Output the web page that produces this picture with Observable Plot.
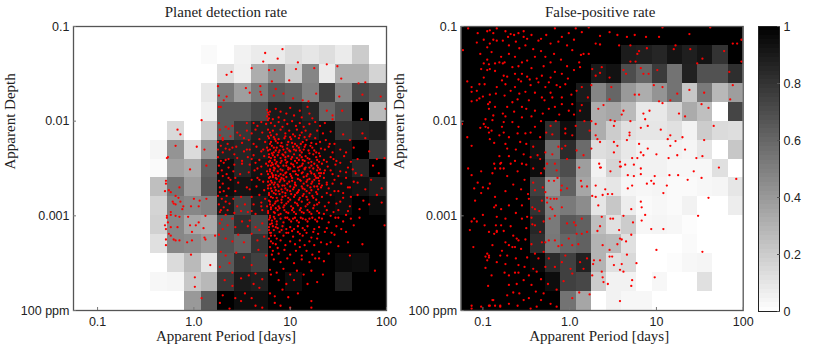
<!DOCTYPE html>
<html><head><meta charset="utf-8">
<script src="https://cdn.jsdelivr.net/npm/d3@7"></script>
<script src="https://cdn.jsdelivr.net/npm/@observablehq/plot@0.6"></script>
<style>
html,body{margin:0;padding:0;background:#fff;width:830px;height:350px;overflow:hidden}
#a,#b,#c{position:absolute;top:0}
#a{left:0}#b{left:390px}#c{left:750px}
svg{display:block;background:transparent}
</style></head><body>
<div id="a"></div><div id="b"></div><div id="c"></div>
<script>
const periodTicks=[0.1,1,10,100];
const periodLabels=["0.1","1.0","10","100"];
const depthTicks=[0.1,0.01,0.001,0.0001];
const depthLabels=["0.1","0.01","0.001","100 ppm"];
const barTicks=[0,0.2,0.4,0.6,0.8,1];
const titleLeft="Planet detection rate";
const titleRight="False-positive rate";
const xTitle="Apparent Period [days]";
const yTitle="Apparent Depth";
// rows: top (depth 0.1) to bottom; columns: short to long period
const planetRate=[
[0,0,0,0,0,0,0,0,0,0,0,0,0,0,0,0,0,0,0],
[0,0,0,0,0,0,0,0,.02,0,.05,.08,.08,.13,.1,.13,.08,.2,0],
[0,0,0,0,0,0,0,0,0,.12,.06,.32,.45,.2,.48,.08,.32,.32,.17],
[0,0,0,0,0,0,0,0,.09,.52,.38,.52,.65,.62,.5,.75,.48,.72,.65],
[0,0,0,0,0,0,0,0,.06,.65,.65,.72,.9,.9,.85,.6,.7,1,.27],
[0,0,0,0,0,0,.15,0,.2,.65,.78,.88,.9,.92,.9,.95,.8,.85,.87],
[0,0,0,0,0,.04,.42,.14,.42,.87,.85,.9,.95,.92,.97,.95,.92,1,.77],
[0,0,0,0,0,.02,.37,.33,.62,.95,.85,.93,.95,.97,.95,.95,.93,.85,1],
[0,0,0,0,0,.25,.55,.38,.65,.95,.92,.95,.95,.95,.95,.95,.95,.93,.88],
[0,0,0,0,0,.17,.5,.47,.5,.9,.75,.9,.97,.97,.97,.97,.95,1,.95],
[0,0,0,0,0,.18,.47,.35,.33,.68,.82,.72,.97,1,1,1,1,1,1],
[0,0,0,0,0,.12,.47,.45,.4,.68,.62,.8,1,1,1,1,1,1,1],
[0,0,0,0,0,0,.14,.27,.1,.65,.8,.75,1,1,1,1,.96,.95,1],
[0,0,0,0,0,.03,.04,.22,.28,.78,.9,.88,1,.95,1,1,.88,1,1],
[0,0,0,0,0,0,0,.4,.65,1,.95,.95,1,1,1,1,1,1,1]];
const falsePositiveRate=[
[1,1,1,1,1,1,1,1,1,1,1,1,1,1,1,1,1,1,1],
[1,1,1,1,1,1,1,1,1,1,1,.89,.88,.85,.92,.88,.92,.8,1],
[1,1,1,1,1,1,1,1,1,.9,.93,.7,.6,.77,.55,.87,.68,.68,.82],
[1,1,1,1,1,1,1,1,.9,.48,.6,.4,.32,.42,.55,.22,.52,.28,.38],
[1,1,1,1,1,1,1,1,.93,.32,.35,.27,.09,.09,.17,.33,.25,0,.73],
[1,1,1,1,1,1,.82,.95,.8,.32,.2,.12,.1,.1,.12,.05,.2,.14,.13],
[1,1,1,1,1,.93,.57,.83,.58,.13,.15,.09,.05,.05,.05,.04,.1,0,.22],
[1,1,1,1,1,.95,.63,.7,.38,.05,.17,.07,.05,.05,.03,.03,.03,.12,0],
[1,1,1,1,1,.75,.42,.62,.35,.08,.1,.04,.03,.04,.02,.02,.03,.04,.1],
[1,1,1,1,1,.8,.5,.52,.45,.1,.22,.07,.02,.03,.02,.05,0,0,.07],
[1,1,1,1,1,.85,.52,.65,.62,.25,.12,.2,.03,.04,.03,.01,0,0,0],
[1,1,1,1,1,.82,.53,.6,.62,.3,.28,.12,0,0,0,.02,0,0,0],
[1,1,1,1,1,.97,.83,.75,.87,.3,.12,.15,0,0,.01,.03,.04,0,0],
[1,1,1,1,1,1,.95,.75,.72,.2,.05,.05,0,.03,0,0,.12,0,0],
[1,1,1,1,1,1,1,.55,.35,0,.05,.03,.03,0,0,0,0,0,0]];
// [log10 period, log10 depth]
const planetSparse=[[.74,-1.28],[.92,-1.24],[.72,-1.37],[.87,-1.34],[1.08,-1.38],[1.38,-1.4],[1.49,-1.42],[.34,-1.51],[.39,-1.48],[.6,-1.44],[.78,-1.46],[.84,-1.46],[1.06,-1.45],[1.25,-1.44],[1.53,-1.55],[1.71,-1.6],[1.78,-1.59],[.81,-1.58],[.99,-1.57],[.25,-1.63],[.54,-1.65],[.58,-1.7],[.69,-1.63],[.69,-1.69],[.7,-1.72],[.85,-1.66],[.83,-1.73],[.93,-1.71],[1.03,-1.76],[1.27,-1.71],[1.51,-1.74],[1.75,-1.72],[1.94,-1.74],[.26,-1.73],[.34,-1.74],[.31,-1.78],[.26,-1.85],[.28,-1.85],[1.13,-1.78],[1.19,-1.79],[1.99,-1.87],[1.54,-1.89],[1.38,-1.89],[1.44,-1.94],[1.44,-1.98],[1.74,-1.98],[.08,-1.99],[-.17,-2.09],[-.14,-2.14],[-.19,-2.26],[.03,-2.27],[.11,-2.3],[-.28,-2.39],[-.27,-2.38],[-.04,-2.51],[.13,-2.47],[-.29,-2.63],[-.29,-2.66],[-.3,-2.74],[-.26,-2.73],[-.24,-2.75],[-.19,-2.79],[-.15,-2.7],[-.16,-2.81],[-.22,-2.85],[-.21,-2.87],[-.19,-2.88],[-.14,-2.85],[-.11,-2.9],[-.12,-2.93],[0,-2.82],[.13,-2.82],[.06,-2.84],[-.03,-2.9],[.05,-2.9],[-.24,-2.96],[-.28,-3],[-.28,-3.02],[-.24,-2.99],[-.19,-3],[-.15,-3.01],[-.06,-3.01],[.12,-3],[.05,-3.07],[.02,-3.1],[.1,-3.13],[-.04,-3.1],[-.17,-3.12],[-.24,-3.12],[-.3,-3.1],[-.29,-3.14],[-.27,-3.07],[-.26,-3.19],[-.24,-3.21],[-.21,-3.25],[-.29,-3.25],[-.19,-3.26],[-.15,-3.26],[-.29,-3.31],[-.02,-3.17],[-.02,-3.26],[-.07,-3.28],[.11,-3.23],[.12,-3.25],[.22,-3.21],[-.03,-3.41],[.17,-3.52],[.01,-3.65],[.01,-3.75],[.08,-3.87]];
const planetCore=[[.76,-1.88],[.77,-1.91],[.78,-1.93],[.76,-1.95],[.78,-1.97],[.77,-1.99],[.79,-1.9],[.85,-1.87],[.9,-1.9],[.96,-1.92],[1,-1.86],[1.04,-1.94],[1.1,-1.89],[1.12,-1.96],[.82,-1.98],[.88,-1.96],[.94,-1.99],[1.18,-1.85],[1.2,-1.92],[1.23,-1.97],
[.62,-2.02],[.66,-2.05],[.7,-2.01],[.75,-2.03],[.8,-2.02],[.84,-2.05],[.88,-2.01],[.92,-2.06],[.97,-2.03],[1.02,-2],[1.06,-2.05],[1.1,-2.02],[1.14,-2.06],[1.2,-2.03],[1.26,-2.01],[1.31,-2.05],[1.36,-2.02],[.26,-2.02],[.33,-2.06],[.36,-2.08],[.4,-2.05],[.27,-2.09],
[.55,-2.1],[.6,-2.13],[.64,-2.09],[.71,-2.12],[.77,-2.09],[.79,-2.12],[.82,-2.1],[.86,-2.14],[.9,-2.09],[.95,-2.13],[.99,-2.1],[1.03,-2.14],[1.07,-2.09],[1.12,-2.12],[1.16,-2.1],[1.21,-2.14],[1.28,-2.1],[1.34,-2.13],[1.42,-2.11],[1.55,-2.14],[1.75,-2.13],[1.78,-2.18],[.27,-2.15],[.3,-2.18],[.38,-2.16],[.48,-2.15],[.52,-2.18],
[.57,-2.2],[.62,-2.24],[.68,-2.19],[.74,-2.22],[.78,-2.18],[.8,-2.22],[.83,-2.17],[.85,-2.21],[.88,-2.19],[.91,-2.23],[.94,-2.18],[.98,-2.22],[1.01,-2.19],[1.05,-2.24],[1.09,-2.18],[1.13,-2.22],[1.17,-2.2],[1.22,-2.23],[1.26,-2.18],[1.31,-2.22],[1.37,-2.2],[1.46,-2.24],[1.62,-2.2],[.25,-2.22],[.28,-2.26],[.35,-2.24],[.44,-2.27],[.5,-2.23],
[.58,-2.3],[.65,-2.27],[.7,-2.32],[.76,-2.28],[.79,-2.3],[.81,-2.26],[.83,-2.33],[.86,-2.28],[.89,-2.31],[.92,-2.27],[.95,-2.33],[.97,-2.29],[1,-2.32],[1.03,-2.27],[1.06,-2.31],[1.09,-2.28],[1.12,-2.33],[1.15,-2.27],[1.19,-2.31],[1.23,-2.28],[1.27,-2.33],[1.32,-2.29],[1.4,-2.27],[1.44,-2.33],[1.52,-2.3],[1.66,-2.28],[1.82,-2.32],[1.9,-2.4],[.25,-2.3],[.3,-2.33],[.37,-2.3],[.42,-2.35],[.52,-2.32],
[.56,-2.38],[.62,-2.36],[.68,-2.41],[.73,-2.37],[.78,-2.35],[.8,-2.39],[.82,-2.36],[.84,-2.41],[.87,-2.36],[.9,-2.39],[.93,-2.36],[.95,-2.41],[.98,-2.37],[1.01,-2.4],[1.04,-2.35],[1.07,-2.39],[1.1,-2.36],[1.13,-2.41],[1.16,-2.37],[1.2,-2.4],[1.24,-2.35],[1.28,-2.41],[1.31,-2.37],[1.35,-2.41],[1.42,-2.38],[1.48,-2.42],[1.56,-2.37],[1.7,-2.4],[1.98,-2.39],[.25,-2.38],[.33,-2.41],[.45,-2.39],
[.58,-2.46],[.64,-2.44],[.7,-2.48],[.75,-2.45],[.78,-2.43],[.8,-2.47],[.81,-2.44],[.83,-2.49],[.85,-2.45],[.88,-2.48],[.9,-2.44],[.93,-2.47],[.96,-2.44],[.98,-2.49],[1.01,-2.45],[1.04,-2.48],[1.07,-2.44],[1.1,-2.48],[1.13,-2.45],[1.16,-2.49],[1.19,-2.44],[1.22,-2.47],[1.25,-2.45],[1.29,-2.49],[1.33,-2.45],[1.39,-2.48],[1.47,-2.46],[1.6,-2.49],[1.86,-2.47],[.26,-2.47],[.31,-2.44],[.36,-2.49],[.42,-2.46],[.5,-2.45],
[.57,-2.54],[.63,-2.52],[.7,-2.56],[.76,-2.53],[.79,-2.51],[.81,-2.55],[.83,-2.52],[.85,-2.57],[.87,-2.53],[.9,-2.56],[.92,-2.52],[.95,-2.55],[.98,-2.51],[1,-2.56],[1.03,-2.53],[1.06,-2.56],[1.09,-2.52],[1.12,-2.55],[1.15,-2.51],[1.18,-2.56],[1.21,-2.53],[1.25,-2.56],[1.28,-2.52],[1.32,-2.55],[1.36,-2.52],[1.44,-2.56],[1.52,-2.53],[1.68,-2.55],[.25,-2.55],[.29,-2.52],[.34,-2.56],[.41,-2.53],[.48,-2.56],
[.6,-2.62],[.66,-2.6],[.72,-2.64],[.78,-2.6],[.8,-2.63],[.82,-2.59],[.84,-2.65],[.86,-2.61],[.89,-2.64],[.91,-2.6],[.94,-2.63],[.96,-2.59],[.99,-2.64],[1.02,-2.6],[1.05,-2.65],[1.08,-2.61],[1.11,-2.63],[1.14,-2.59],[1.17,-2.64],[1.2,-2.61],[1.23,-2.64],[1.27,-2.6],[1.3,-2.63],[1.35,-2.6],[1.38,-2.65],[1.46,-2.62],[1.58,-2.6],[1.66,-2.64],[1.84,-2.62],[.26,-2.63],[.3,-2.66],[.38,-2.62],[.46,-2.65],
[.58,-2.72],[.65,-2.69],[.73,-2.73],[.77,-2.68],[.8,-2.71],[.83,-2.67],[.85,-2.73],[.88,-2.69],[.91,-2.72],[.94,-2.68],[.97,-2.73],[1,-2.69],[1.03,-2.72],[1.06,-2.68],[1.09,-2.73],[1.12,-2.69],[1.15,-2.72],[1.18,-2.68],[1.22,-2.73],[1.25,-2.69],[1.29,-2.72],[1.33,-2.68],[1.4,-2.71],[1.5,-2.74],[1.62,-2.7],[1.78,-2.72],[1.95,-2.71],[.27,-2.7],[.31,-2.74],[.36,-2.71],[.43,-2.74],
[.6,-2.8],[.68,-2.78],[.74,-2.82],[.78,-2.76],[.8,-2.8],[.83,-2.76],[.86,-2.81],[.89,-2.77],[.92,-2.8],[.95,-2.76],[.98,-2.81],[1.01,-2.77],[1.04,-2.8],[1.07,-2.76],[1.1,-2.81],[1.14,-2.77],[1.17,-2.8],[1.2,-2.76],[1.24,-2.81],[1.28,-2.77],[1.33,-2.8],[1.42,-2.78],[1.55,-2.81],[1.7,-2.78],[.25,-2.79],[.29,-2.82],[.34,-2.79],[.41,-2.82],[.49,-2.8],
[.62,-2.88],[.7,-2.86],[.76,-2.9],[.79,-2.85],[.82,-2.89],[.85,-2.85],[.88,-2.9],[.91,-2.86],[.94,-2.89],[.98,-2.85],[1.01,-2.9],[1.05,-2.86],[1.08,-2.89],[1.12,-2.85],[1.16,-2.9],[1.2,-2.86],[1.25,-2.89],[1.3,-2.86],[1.36,-2.9],[1.48,-2.87],[1.62,-2.9],[1.82,-2.88],[1.95,-2.86],[.26,-2.88],[.31,-2.91],[.37,-2.87],[.45,-2.9],[.53,-2.88],
[.56,-2.96],[.64,-2.98],[.71,-2.94],[.77,-2.97],[.8,-2.93],[.84,-2.97],[.87,-2.94],[.9,-2.98],[.94,-2.94],[.98,-2.97],[1.02,-2.94],[1.06,-2.98],[1.1,-2.94],[1.14,-2.97],[1.18,-2.94],[1.22,-2.98],[1.28,-2.95],[1.35,-2.98],[1.45,-2.96],[1.58,-2.99],[.27,-2.96],[.33,-2.99],[.42,-2.97],[.49,-2.95],
[.79,-3.02],[.81,-3.05],[.83,-3.01],[.86,-3.06],[.9,-3.03],[.93,-3.07],[.97,-3.02],[1.01,-3.06],[1.05,-3.02],[1.09,-3.07],[1.13,-3.03],[1.18,-3.06],[1.23,-3.02],[1.28,-3.06],[1.33,-3.03],[1.4,-3.07],[1.47,-3.02],[1.55,-3.06],[1.63,-3.03],[1.72,-3.02],[1.98,-3.1],[.79,-3.09],[.78,-3.12],[.82,-3.11],[.87,-3.13],[.92,-3.11],[.96,-3.14],[1,-3.12],[1.04,-3.14],[1.08,-3.11],[1.13,-3.13],[1.18,-3.11],[1.25,-3.14],[1.3,-3.12],[1.38,-3.13],[1.48,-3.11],[1.53,-3.14],[.27,-3.08],[.35,-3.1],[.43,-3.12],[.5,-3.06],[.58,-3.05],[.64,-3.12],[.71,-3.08],
[.8,-3.18],[.84,-3.21],[.89,-3.17],[.93,-3.21],[.98,-3.18],[1.03,-3.22],[1.08,-3.17],[1.13,-3.21],[1.17,-3.18],[1.22,-3.23],[1.29,-3.19],[1.36,-3.17],[1.28,-3.24],[1.46,-3.2],[.8,-3.27],[.85,-3.3],[.9,-3.26],[.95,-3.31],[1,-3.27],[1.05,-3.3],[1.1,-3.26],[1.15,-3.31],[1.2,-3.27],[1.25,-3.31],[1.32,-3.28],[1.1,-3.33],[1.38,-3.3],[1.6,-3.28],[1.75,-3.3],[.26,-3.2],[.33,-3.24],[.4,-3.27],[.46,-3.2],[.52,-3.28],[.6,-3.19],[.66,-3.26],[.73,-3.22],
[.82,-3.37],[.88,-3.4],[.94,-3.36],[1,-3.41],[1.06,-3.37],[1.12,-3.42],[1.17,-3.37],[1.23,-3.41],[1.3,-3.38],[.83,-3.46],[.9,-3.49],[.97,-3.45],[1.04,-3.5],[1.12,-3.46],[1.2,-3.49],[1.26,-3.45],[1.35,-3.48],[1.62,-3.42],[1.88,-3.58],[.28,-3.38],[.33,-3.42],[.44,-3.39],[.52,-3.44],[.67,-3.36],[.75,-3.42],[.37,-3.5],[.6,-3.52],[.27,-3.54],
[.79,-3.57],[.86,-3.6],[.93,-3.56],[1,-3.62],[1.07,-3.58],[1.14,-3.62],[1.22,-3.58],[1.34,-3.62],[.88,-3.68],[.96,-3.72],[1.04,-3.68],[1.18,-3.72],[1.28,-3.7],[.8,-3.62],[.4,-3.6],[.49,-3.66],[.57,-3.63],[.64,-3.61],[.71,-3.67],[.32,-3.68],[.62,-3.72],[.68,-3.76],[.4,-3.74],
[.79,-3.82],[.84,-3.85],[.92,-3.78],[.98,-3.86],[1.08,-3.82],[1.22,-3.9],[.84,-3.92],[.9,-3.95],[1,-3.97],[1.22,-3.97],[.43,-3.87],[.49,-3.9],[.53,-3.82],[.6,-3.87],[.3,-3.84],[.27,-3.92],[.64,-3.95],[.71,-3.97],[.37,-3.98]];
const planetDense=[[.77,-2.16],[.8,-2.15],[.84,-2.19],[.79,-2.24],[.87,-2.23],[.83,-2.28],[.77,-2.31],[.9,-2.26],[.85,-2.31],[.81,-2.34],[.78,-2.38],[.88,-2.33],[.92,-2.35],[.84,-2.38],[.79,-2.42],[.86,-2.43],[.91,-2.42],[.82,-2.46],[.77,-2.47],[.87,-2.47],[.79,-2.53],[.84,-2.5],[.9,-2.51],[.77,-2.56],[.82,-2.57],[.88,-2.58],[.93,-2.57],[.79,-2.59],[.85,-2.6],[.77,-2.64],[.81,-2.65],[.9,-2.62],[.87,-2.67],[.79,-2.67],[.84,-2.7],[.92,-2.68],[.77,-2.71],[.81,-2.74],[.88,-2.74],[.85,-2.77],[.78,-2.78],[.92,-2.75],[.82,-2.81],[.87,-2.84],[.78,-2.84],[.91,-2.83],[.84,-2.87],[.79,-2.88],[.89,-2.92],[.8,-2.91],[.85,-2.92],[.93,-2.91],[.77,-2.95],[.83,-2.96],[.88,-2.99],[.79,-3],[.84,-3.03],[.78,-3.04],[.81,-3.08],[.86,-3.09],[.78,-3.15],[.83,-3.15],[.8,-3.21],[.86,-3.24],[.78,-3.24],[.82,-3.29],[.79,-3.33],[.87,-3.34],[.81,-3.41],
[.95,-2.16],[1,-2.17],[1.05,-2.16],[1.1,-2.15],[1.15,-2.17],[1.2,-2.16],[.97,-2.25],[1.02,-2.23],[1.07,-2.26],[1.11,-2.24],[1.16,-2.25],[1.21,-2.26],[1.27,-2.24],[.93,-2.3],[.99,-2.31],[1.04,-2.3],[1.1,-2.31],[1.14,-2.3],[1.2,-2.34],[1.25,-2.31],[1.3,-2.34],[.95,-2.38],[.97,-2.43],[1.02,-2.38],[1.05,-2.42],[1.09,-2.41],[1.12,-2.38],[1.15,-2.42],[1.18,-2.39],[1.22,-2.43],[1.27,-2.38],[1.3,-2.43],[.96,-2.47],[1,-2.5],[1.03,-2.46],[1.08,-2.49],[1.12,-2.47],[1.15,-2.5],[1.2,-2.49],[1.24,-2.5],[1.28,-2.47],[1.31,-2.51],[1.3,-2.55],[1.31,-2.58],[1.29,-2.6],[1.3,-2.66],[1.28,-2.69],[1.32,-2.7],[.96,-2.54],[1.01,-2.58],[1.05,-2.53],[1.08,-2.57],[1.13,-2.54],[1.17,-2.58],[1.22,-2.55],[1.26,-2.58],[.93,-2.61],[.97,-2.66],[1.02,-2.63],[1.05,-2.67],[1.1,-2.62],[1.14,-2.66],[1.18,-2.62],[1.22,-2.66],[1.25,-2.62],[.95,-2.71],[1,-2.74],[1.04,-2.7],[1.08,-2.75],[1.13,-2.71],[1.17,-2.74],[1.21,-2.7],[1.27,-2.75],[.95,-2.79],[1,-2.83],[1.05,-2.78],[1.09,-2.83],[1.13,-2.79],[1.18,-2.83],[1.23,-2.79],[1.27,-2.83],[.96,-2.87],[1.03,-2.92],[1.07,-2.87],[1.11,-2.92],[1.18,-2.88],[1.24,-2.92],[1.28,-2.88],[.96,-2.96],[1.04,-2.96],[1.12,-2.96],[1.2,-2.96],[1.3,-2.97],
[1.36,-2.3],[1.41,-2.24],[1.38,-2.43],[1.45,-2.4],[1.52,-2.44],[1.58,-2.33],[1.63,-2.43],[1.35,-2.55],[1.42,-2.52],[1.5,-2.58],[1.58,-2.54],[1.65,-2.51],[1.74,-2.57],[1.38,-2.67],[1.44,-2.66],[1.53,-2.66],[1.6,-2.7],[1.7,-2.65],[1.92,-2.55],[1.38,-2.76],[1.46,-2.74],[1.55,-2.76],[1.63,-2.8],[1.76,-2.84],[1.9,-2.78],[1.4,-2.86],[1.52,-2.85],[1.6,-2.95],[1.72,-2.93],[1.38,-2.94],[1.5,-2.94],[1.42,-3],[1.5,-3.02],[1.66,-3.1],[1.43,-3.18],[1.58,-3.17],[1.42,-3.28],[1.5,-3.32],[1.4,-3.4],[1.3,-3.45],
[.95,-3.02],[.99,-3.04],[1.03,-3.03],[1.07,-3.05],[1.11,-3.02],[1.16,-3.04],[1.2,-3.03],[1.26,-3.04],[1.3,-3.02],[.85,-3.12],[.79,-3.18],[.91,-3.15],[.96,-3.18],[1.02,-3.16],[1.1,-3.19],[1.15,-3.15],[1.24,-3.17],
[.3,-2.2],[.33,-2.29],[.28,-2.42],[.36,-2.4],[.4,-2.28],[.3,-2.58],[.36,-2.6],[.27,-2.75],[.33,-2.85],[.43,-2.6],[.5,-2.42],[.55,-2.3],[.6,-2.4],[.66,-2.5],[.72,-2.3],[.68,-2.62],[.55,-2.7],[.6,-2.95],[.7,-2.9],[.45,-2.12],[.55,-2.02],[.28,-2.94],[.35,-2.94],[.29,-3.04],[.4,-3.03],[.56,-3.11],[.68,-3.15],[.3,-3.14]];
const falsePositiveLeft=[[-1.17,-1.02],[-1.23,-1.25],[-1.06,-1.07],[-1.07,-1.17],[-.99,-1.14],[-.95,-1.05],[-.92,-1.04],[-.88,-1.07],[-.84,-1.02],[-.88,-1.14],[-.92,-1.18],[-.95,-1.22],[-.84,-1.15],[-.77,-1.15],[-1.03,-1.29],[-.9,-1.27],[-.95,-1.35],[-.99,-1.39],[-.93,-1.4],[-1.02,-1.45],[-.86,-1.39],[-.81,-1.38],[-.79,-1.32],[-.77,-1.39],[-.95,-1.46],[-.92,-1.45],[-.86,-1.47],[-.99,-1.54],[-.78,-1.57],[-.76,-1.52],[-1.18,-1.58],[-1.13,-1.64],[-1.13,-1.69],[-1.07,-1.68],[-1.04,-1.61],[-.98,-1.61],[-.84,-1.64],[-.92,-1.72],[-1.04,-1.76],[-1.13,-1.79],[-1.07,-1.78],[-1,-1.74],[-.85,-1.71],[-.94,-1.82],[-.92,-1.8],[-.93,-1.87],[-.86,-1.85],[-.77,-1.92],[-.88,-1.94],[-.97,-1.98],[-.89,-1.99],[-1.24,-2.03],[-.99,-2.03],[-1.03,-2.07],[-.97,-2.06],[-.94,-2.07],[-.9,-2.1],[-.93,-2.12],[-1.18,-2.17],[-.92,-2.19],[-1.13,-2.26],[-.87,-2.23],[-.81,-2.15],[-.76,-2.12],[-.76,-2.01],[-.81,-2.37],[-.87,-2.45],[-.79,-2.44],[-1.17,-2.5],[-1.02,-2.53],[-1.13,-2.57],[-.86,-2.5],[-.89,-2.55],[-.8,-2.5],[-.76,-2.5],[-1.06,-2.65],[-.92,-2.66],[-1,-2.7],[-1.1,-2.71],[-.94,-2.71],[-1.02,-2.76],[-.86,-2.8],[-1.09,-2.84],[-.85,-2.89],[-.87,-2.91],[-.79,-2.93],[-1,-2.99],[-.84,-3.01],[-1.1,-3.03],[-1.13,-3.06],[-1.07,-3.06],[-.98,-3.1],[-.85,-3.1],[-.79,-3.1],[-1.15,-3.15],[-.93,-3.17],[-.87,-3.19],[-.84,-3.16],[-.76,-3.16],[-.89,-3.31],[-1.11,-3.33],[-.78,-3.37],[-.8,-3.42],[-.93,-3.42],[-.97,-3.43],[-.95,-3.47],[-.84,-3.49],[-.97,-3.55],[-.9,-3.63],[-.94,-3.74],[-.89,-3.89],[-1.13,-3.95],[-1.13,-3.98],[-1.02,-3.96],[-.92,-3.95],[-.86,-3.95],[-.8,-3.95]];
const falsePositiveRight=[[-.53,-1.05],[-.59,-1.07],[-.64,-1.09],[-.68,-1.08],[-.71,-1.11],[-.53,-1.11],[-.49,-1.13],[-.36,-1.15],[-.33,-1.13],[-.22,-1.18],[-.17,-1.02],[-.09,-1.11],[-.01,-1.07],[.07,-1.02],[.14,-1.06],[.22,-1.01],[.35,-1.1],[.46,-1.06],[.55,-1.09],[.66,-1.11],[.75,-1.09],[.88,-1.11],[1.03,-1.11],[1.07,-1.01],[1.38,-1.08],[1.62,-1.01],[1.88,-1.18],[1.93,-1.18],[1.98,-1.14],[1.22,-1.2],[1.39,-1.24],[1.2,-1.24],[1.78,-1.26],[.8,-1.26],[.89,-1.23],[.7,-1.2],[.57,-1.2],[.35,-1.19],[.3,-1.18],[.16,-1.29],[.13,-1.3],[.22,-1.29],[.03,-1.25],[-.18,-1.29],[-.28,-1.32],[-.4,-1.32],[-.49,-1.36],[-.55,-1.38],[-.63,-1.32],[-.7,-1.29],[.76,-1.37],[.7,-1.37],[.78,-1.29],[1.47,-1.39],[1.53,-1.34],[1.98,-1.37],[.91,-1.5],[.85,-1.5],[1.01,-1.46],[.82,-1.44],[.65,-1.5],[.62,-1.46],[.26,-1.45],[.37,-1.43],[.35,-1.49],[.3,-1.52],[.46,-1.54],[.11,-1.38],[.12,-1.43],[.05,-1.46],[-.09,-1.5],[-.17,-1.48],[-.22,-1.54],[-.32,-1.52],[-.38,-1.55],[-.49,-1.53],[-.55,-1.5],[-.56,-1.58],[-.63,-1.5],[1.84,-1.48],[1.88,-1.62],[1.38,-1.67],[1.55,-1.7],[.97,-1.62],[1.07,-1.64],[1.24,-1.71],[.75,-1.72],[.8,-1.72],[1.03,-1.79],[1.07,-1.81],[1.16,-1.78],[.46,-1.77],[.48,-1.64],[.25,-1.62],[.21,-1.75],[1.85,-1.77],[.14,-1.64],[.08,-1.68],[-.05,-1.61],[-.15,-1.62],[-.24,-1.59],[-.36,-1.59],[-.45,-1.62],[-.51,-1.69],[-.63,-1.64],[-.68,-1.68],[-.74,-1.61],[-.09,-1.75],[-.2,-1.75],[-.32,-1.75],[-.29,-1.78],[-.47,-1.78],[-.66,-1.8],[-.72,-1.85],[-.55,-1.85],[-.4,-1.89],[-.24,-1.87],[-.17,-1.85],[-.09,-1.82],[.03,-1.82],[.14,-1.83],[.12,-1.89],[-.01,-1.89],[.33,-1.87],[.39,-1.83],[.62,-1.89],[.85,-1.92],[.92,-1.89],[1.26,-1.92],[1.33,-1.95],[1.52,-1.82],[1.6,-1.86],[.6,-1.93],[.87,-1.98],[.47,-1.99],[.52,-2],[.3,-2.03],[.25,-2],[.17,-2],[.07,-2.05],[-.05,-2.08],[-.27,-2.12],[-.22,-2.05],[-.4,-2.06],[-.59,-2.06],[-.51,-2.13],[-.78,-2.06],[-.7,-2.17],[.7,-2],[.9,-2.05],[.82,-2.07],[.69,-2.12],[.51,-2.05],[1.05,-2.09],[1.66,-2.05],[1.16,-2.15],[1.13,-2.19],[1.3,-2.17],[1.22,-2.21],[1.16,-2.26],[.66,-2.2],[.69,-2.15],[.8,-2.24],[.51,-2.22],[.55,-2.26],[.3,-2.15],[.32,-2.19],[.35,-2.22],[.25,-2.29],[-.05,-2.13],[.03,-2.15],[-.13,-2.27],[-.09,-2.29],[-.05,-2.26],[.16,-2.36],[.08,-2.31],[-.28,-2.33],[-.42,-2.27],[-.53,-2.35],[-.57,-2.22],[-.74,-2.24],[1.55,-2.2],[1.33,-2.3],[.9,-2.29],[.82,-2.33],[.51,-2.33],[.85,-2.36],[1,-2.35],[1.14,-2.39],[1.24,-2.36],[1.46,-2.39],[1.53,-2.37],[.72,-2.39],[.78,-2.39],[1.72,-2.49],[.34,-2.45],[.36,-2.49],[.58,-2.43],[.59,-2.48],[.64,-2.46],[.74,-2.46],[.11,-2.49],[-.17,-2.45],[-.26,-2.45],[-.29,-2.5],[-.45,-2.38],[-.55,-2.45],[-.63,-2.42],[-.68,-2.45],[-.8,-2.45],
[.82,-2.56],[.82,-2.5],[.67,-2.57],[.74,-2.58],[.98,-2.58],[1.15,-2.57],[1.25,-2.57],[1.43,-2.53],[1.52,-2.6],[1.36,-2.62],[1.92,-2.61],[.94,-2.63],[.97,-2.66],[.89,-2.66],[1.12,-2.68],[1.08,-2.76],[.67,-2.71],[.72,-2.68],[.3,-2.68],[.41,-2.72],[.44,-2.77],[.49,-2.77],[.38,-2.78],[.26,-2.79],[.3,-2.8],[.2,-2.69],[.14,-2.69],[.13,-2.63],[.35,-2.49],[.47,-2.53],[.58,-2.48],[1.6,-2.81],[.82,-2.85],[.83,-2.91],[.71,-2.93],[.33,-2.89],[.62,-3],[.87,-2.99],[1.48,-3],[.73,-3.07],[.37,-3.01],[.47,-3.03],[.5,-3.03],[.83,-3.05],[.94,-3.14],[1.08,-3.14],[.57,-3.15],[.35,-3.11],[.32,-3.16],[.71,-3.2],[.58,-3.24],[.6,-3.25],[.65,-3.27],[.55,-3.3],[.38,-3.31],[.46,-3.36],[1,-3.36],[1.53,-3.38],[.66,-3.41],[.49,-3.43],[.46,-3.43],[.28,-3.47],[.35,-3.47],[.27,-3.51],[.6,-3.51],[.77,-3.5],[.51,-3.52],[.58,-3.57],[.62,-3.59],[.37,-3.59],[.26,-3.63],[.98,-3.65],[.38,-3.65],[.39,-3.7],[.44,-3.72],[.72,-3.68],[.71,-3.74],[.11,-3.81],[.23,-3.83],[.03,-3.87],[.58,-3.9],
[-.24,-2.63],[-.18,-2.63],[-.15,-2.52],[-.09,-2.68],[-.1,-2.73],[-.03,-2.71],[-.31,-2.7],[-.28,-2.75],[-.26,-2.81],[-.22,-2.82],[-.18,-2.82],[-.15,-2.82],[-.26,-2.86],[-.22,-2.91],[-.2,-2.93],[-.09,-2.91],[-.17,-3],[-.23,-3.03],[.05,-3.07],[-.03,-3.08],[.14,-3.03],[.07,-3.1],[.2,-3.17],[.14,-3.19],[.08,-3.19],[-.01,-3.24],[-.09,-3.31],[-.17,-3.26],[-.24,-3.26],[.1,-3.3],[.03,-3.31],[-.13,-3.32],[-.28,-3.28],[-.32,-3.28],[-.4,-3.1],[-.43,-3.09],[-.49,-3.01],[-.55,-3.03],[-.48,-2.77],[-.47,-2.82],[-.61,-2.82],[-.32,-2.84],[-.43,-2.91],[-.4,-2.93],[-.65,-3.21],[-.61,-3.24],[-.51,-3.25],[-.74,-3.28],[-.7,-3.31],[-.66,-3.33],[-.63,-3.33],[-.59,-3.26],[-.84,-3.17],[-.95,-3.4],[-.93,-3.44],[-.74,-3.51],[-.59,-3.52],[-.49,-3.44],[-.4,-3.4],[-.36,-3.45],[-.17,-3.54],[-.09,-3.49],[.01,-3.56],[.03,-3.61],[-.07,-3.69],[.12,-3.49],[.2,-3.45],[.16,-3.56],[-.24,-3.45],[-.28,-3.54],[-.38,-3.59],[-.42,-3.56],[-.47,-3.63],[-.59,-3.6],[-.63,-3.6],[-.7,-3.63],[-.53,-3.68],[-.61,-3.72],[-.39,-3.8],[-.65,-3.81],[-.72,-3.84],[-.47,-3.87],[-.53,-3.89],[-.33,-3.89],[-.22,-3.93],[-.38,-3.96],[-.45,-3.98],[-.8,-3.96],[-.88,-3.89],[-.93,-3.95]];
const falsePositiveDense=[[-.74,-1.05],[-.62,-1.16],[-.7,-1.2],[-.58,-1.23],[-.51,-1.2],[-.44,-1.09],[-.42,-1.24],[-.33,-1.26],[-.27,-1.09],[-.13,-1.16],[-.03,-1.2],[.05,-1.14],[-.75,-1.38],[-.66,-1.43],[-.59,-1.42],[-.44,-1.44],[-.3,-1.42],[-.22,-1.38],[-.1,-1.35],[-.03,-1.42],[-.72,-1.53],[-.59,-1.56],[-.46,-1.56],[-.28,-1.64],[-.11,-1.64],[-.02,-1.55],[.02,-1.72],[-.58,-1.71],[-.4,-1.7],[-.22,-1.7],[-.75,-1.73],[-.6,-1.77],[-.5,-1.87],[-.64,-1.9],[-.74,-1.95],[-.44,-1.95],[-.31,-1.92],[-.12,-1.93],[.05,-1.93],[-.55,-1.96],[-.33,-2],[-.16,-2],[-.66,-2.01],[-.6,-2.13],[-.45,-2.12],[-.34,-2.17],[-.2,-2.14],[-.72,-2.29],[-.62,-2.3],[-.5,-2.24],[-.37,-2.36],[-.2,-2.35],[-.03,-2.4],[-.7,-2.37],[-.5,-2.46],[-.42,-2.5],[-.33,-2.55],[-.6,-2.53],[-.72,-2.58],[-.52,-2.62],[-.42,-2.65],[-.65,-2.67],[-.74,-2.74],[-.56,-2.72],[-.4,-2.73],[-.7,-2.89],[-.55,-2.89],[-.35,-2.95],[-.62,-2.97],[-.74,-3.03],[-.44,-3.02],[-.3,-3.06],[-.68,-3.11],[-.5,-3.13],[-.34,-3.17],[-.56,-3.35],[-.44,-3.3],[-.72,-3.42],[-.62,-3.45],[-.3,-3.38],[-.75,-3.6],[-.52,-3.54],[-.33,-3.67],[-.7,-3.73],[-.44,-3.73],[-.25,-3.72],[-.15,-3.78],[-.58,-3.82],[-.3,-3.82],[-.7,-3.93],[-.6,-3.95],[-.15,-3.96],[.23,-2.1],[-.14,-2.6],[-.34,-2.4],[-.05,-3.42]];

const serif='"Liberation Serif", serif', sans='"Liberation Sans", sans-serif';
const cellsOf=rows=>rows.flatMap((row,r)=>row.map((v,c)=>({
  x1:10**(2-(19-c)*0.175), x2:10**(2-(18-c)*0.175),
  y1:10**(-1-r*0.2), y2:10**(-1-(r+1)*0.2), v})));
const grayScale={type:"linear",domain:[0,1],range:["#ffffff","#000000"]};

function panel(rows,pts,title,width,marginLeft,marginRight,yLabelDx,xLabelDx,titleDx){
  return Plot.plot({
    width,height:350,marginLeft,marginRight,marginTop:26,marginBottom:40,
    style:{background:"transparent",overflow:"visible"},
    x:{type:"log",domain:[10**-1.25,100]},
    y:{type:"log",domain:[1e-4,0.1]},
    color:grayScale,
    marks:[
      Plot.rect(cellsOf(rows),{x1:"x1",x2:"x2",y1:"y1",y2:"y2",fill:"v",clip:true,shapeRendering:"crispEdges"}),
      Plot.dot(pts,{x:d=>10**d[0],y:d=>10**d[1],r:1.15,fill:"#f00",stroke:"none"}),
      Plot.frame({stroke:"#555",strokeWidth:1.3}),
      Plot.axisX({ticks:periodTicks,tickFormat:d=>periodLabels[periodTicks.indexOf(d)],tickSize:-3,tickPadding:10,stroke:"#777",
        fontFamily:sans,fontSize:12.5,fill:"#222",label:null}),
      Plot.axisY({ticks:depthTicks,tickFormat:d=>depthLabels[depthTicks.indexOf(d)],tickSize:-3,tickPadding:7,stroke:"#777",
        fontFamily:sans,fontSize:12.5,fill:"#222",label:null}),
      Plot.text([xTitle],{frameAnchor:"bottom",dx:xLabelDx,dy:26,fontFamily:serif,fontSize:15,fill:"#222",lineAnchor:"middle"}),
      Plot.text([yTitle],{frameAnchor:"left",dx:yLabelDx,dy:1,rotate:-90,fontFamily:serif,fontSize:15,fill:"#222",lineAnchor:"middle"}),
      Plot.text([title],{frameAnchor:"top",dx:titleDx,dy:-14,fontFamily:serif,fontSize:15,fill:"#222",lineAnchor:"middle"})
    ]});
}
document.getElementById("a").append(panel(planetRate,[...planetSparse,...planetCore,...planetDense],titleLeft,400,73,14,-63,-4,-4));
document.getElementById("b").append(panel(falsePositiveRate,[...falsePositiveLeft,...falsePositiveRight,...falsePositiveDense],titleRight,360,70.7,7.3,-62,-3,-2));

const levels=d3.range(64).map(i=>({lo:i/64,hi:(i+1)/64,v:(i+0.5)/64}));
document.getElementById("c").append(Plot.plot({
  width:80,height:350,marginLeft:8,marginRight:51,marginTop:26,marginBottom:39,
  style:{background:"transparent",overflow:"visible"},
  x:{domain:[0,1],axis:null},
  y:{domain:[0,1]},
  color:grayScale,
  marks:[
    Plot.rect(levels,{x1:0,x2:1,y1:"lo",y2:"hi",fill:"v",shapeRendering:"crispEdges"}),
    Plot.frame({stroke:"#222",strokeWidth:1}),
    Plot.axisY({anchor:"right",ticks:barTicks,tickFormat:d=>String(d),tickSize:-3,tickPadding:7,stroke:"#555",
      fontFamily:sans,fontSize:12.5,fill:"#222",label:null})
  ]}));
</script></body></html>
